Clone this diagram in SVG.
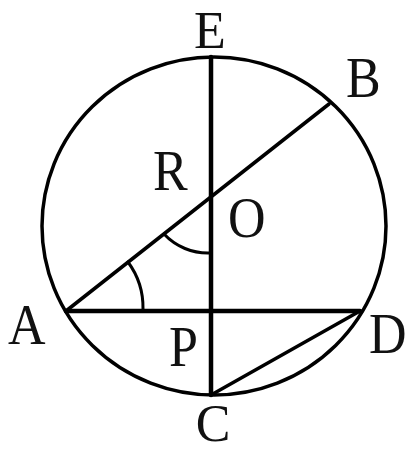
<svg xmlns="http://www.w3.org/2000/svg" width="408" height="453" viewBox="0 0 408 453">
<style>
.l{stroke:#000;fill:none;stroke-linecap:round}
.t{font-family:"Liberation Serif","Times New Roman",serif;font-size:52px;fill:#111}
</style>
<rect width="408" height="453" fill="#fff"/>
<g id="connectors">
<ellipse class="l" cx="214" cy="226" rx="172" ry="169" stroke-width="3.5"/>
<line class="l" x1="211" y1="57" x2="211" y2="395" stroke-width="4.5"/>
<line class="l" x1="66" y1="311" x2="360" y2="311" stroke-width="4.5"/>
<line class="l" x1="66" y1="311" x2="329" y2="104" stroke-width="3.5"/>
<line class="l" x1="211" y1="395" x2="360" y2="311" stroke-width="3.5"/>
<path class="l" d="M164,234 A60,60 0 0 0 210,253" stroke-width="3"/>
<path class="l" d="M128,262 A77,77 0 0 1 143,309" stroke-width="3"/>
</g>
<g id="E"><text class="t" x="210" y="48" text-anchor="middle">E</text></g>
<g id="B"><text class="t" transform="translate(346,97) scale(1,1.1)">B</text></g>
<g id="A"><text class="t" transform="translate(8,344) scale(1,1.1)">A</text></g>
<g id="R"><text class="t" transform="translate(153,190) scale(1,1.1)">R</text></g>
<g id="O"><text class="t" transform="translate(228,237) scale(1,1.1)">O</text></g>
<g id="P"><text class="t" transform="translate(169,366) scale(1,1.1)">P</text></g>
<g id="D"><text class="t" transform="translate(369,353) scale(1,1.1)">D</text></g>
<g id="C"><text class="t" x="213" y="441" text-anchor="middle">C</text></g>
</svg>
